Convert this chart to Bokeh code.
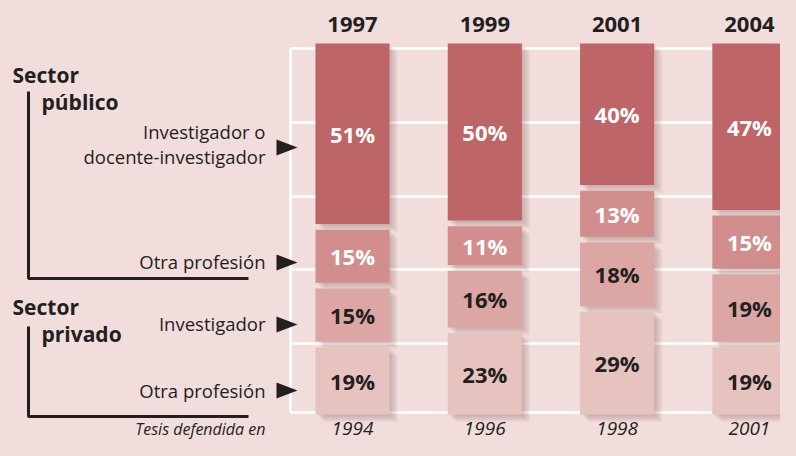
from bokeh.plotting import figure
from bokeh.models import Range1d
from bokeh.core.properties import value
from bokeh.embed import file_html
from bokeh.resources import INLINE

# ---- data ----
years_survey = ["1997", "1999", "2001", "2004"]
years_thesis = ["1994", "1996", "1998", "2001"]
pub_investigador = [51, 50, 40, 47]
pub_otra = [15, 11, 13, 15]
priv_investigador = [15, 16, 18, 19]
priv_otra = [19, 23, 29, 19]
series = [pub_investigador, pub_otra, priv_investigador, priv_otra]
series_colors = ["#bd6567", "#d18e8c", "#dba6a3", "#e7c3bf"]
label_colors = ["#ffffff", "#ffffff", "#231f20", "#231f20"]

# ---- layout ----
W, H = 780, 440
BG = "#f0dddc"
INK = "#231f20"
FONT = "Open Sans"

GAP = 1.6
BAR_W = 0.56
PX_X = 132.3
X0_PIX = 352
X_START = -X0_PIX / PX_X
X_END = X_START + W / PX_X
TOP_PIX, BOTTOM_PIX = 43, 414
PX_Y = (BOTTOM_PIX - TOP_PIX) / (100 + 3 * GAP)
Y_START = -TOP_PIX / PX_Y
Y_END = Y_START + H / PX_Y


def fx(px):
    return X_START + px / PX_X


def fy(py):
    return Y_START + py / PX_Y


p = figure(width=W, height=H, x_range=Range1d(X_START, X_END),
           y_range=Range1d(Y_END, Y_START), output_backend="svg",
           toolbar_location=None, min_border=0,
           x_axis_location=None, y_axis_location=None)
p.grid.visible = False
p.outline_line_color = None
p.background_fill_color = BG
p.border_fill_color = BG

# ---- white grid ----
grid_rows = [48, 122, 196, 269, 343, 412]
p.segment(x0=[fx(290)] * len(grid_rows), y0=[fy(r) for r in grid_rows],
          x1=[fx(800)] * len(grid_rows), y1=[fy(r) for r in grid_rows],
          line_color="white", line_width=2.5)
p.segment(x0=[fx(290)], y0=[fy(48)], x1=[fx(290)], y1=[fy(412)],
          line_color="white", line_width=2.5)

# ---- stacked segments ----
xs = list(range(len(years_survey)))
seg = []  # (col, series index, top, bottom, value)
for j in xs:
    cum = 0
    for i, s in enumerate(series):
        top = cum + i * GAP
        bottom = top + s[j]
        seg.append((j, i, top, bottom, s[j]))
        cum += s[j]

# soft drop shadows
for k in range(1, 8):
    sx = 1.2 * k / PX_X
    sy = 1.1 * k / PX_Y
    p.quad(left=[c - BAR_W / 2 + sx for c, i, t, b, v in seg],
           right=[c + BAR_W / 2 + sx for c, i, t, b, v in seg],
           top=[t + sy for c, i, t, b, v in seg],
           bottom=[b + sy for c, i, t, b, v in seg],
           fill_color="#5a3c3c", fill_alpha=0.04, line_color=None)

p.quad(left=[c - BAR_W / 2 for c, i, t, b, v in seg],
       right=[c + BAR_W / 2 for c, i, t, b, v in seg],
       top=[t for c, i, t, b, v in seg],
       bottom=[b for c, i, t, b, v in seg],
       fill_color=[series_colors[i] for c, i, t, b, v in seg], line_color=None)

p.text(x=[c for c, i, t, b, v in seg], y=[(t + b) / 2 for c, i, t, b, v in seg],
       text=[f"{v}%" for c, i, t, b, v in seg],
       text_color=[label_colors[i] for c, i, t, b, v in seg],
       text_font=value(FONT), text_font_style="bold", text_font_size="22px",
       text_align="center", text_baseline="middle")

# ---- year labels ----
p.text(x=xs, y=[fy(24)] * 4, text=years_survey, text_color=INK,
       text_font=value(FONT), text_font_style="bold", text_font_size="22px",
       text_align="center", text_baseline="middle")
p.text(x=xs, y=[fy(428)] * 4, text=years_thesis, text_color=INK,
       text_font=value(FONT), text_font_style="italic", text_font_size="19px",
       text_align="center", text_baseline="middle")
p.text(x=[fx(265)], y=[fy(428)], text=["Tesis defendida en"], text_color=INK,
       text_font=value(FONT), text_font_style="italic", text_font_size="16px",
       text_align="right", text_baseline="middle")

# ---- left annotations ----
p.text(x=[fx(12), fx(41), fx(12), fx(41)], y=[fy(74), fy(101), fy(306), fy(333)],
       text=["Sector", "público", "Sector", "privado"], text_color=INK,
       text_font=value(FONT), text_font_style="bold", text_font_size="21px",
       text_align="left", text_baseline="middle")
p.text(x=[fx(265)] * 5, y=[fy(131), fy(156), fy(261), fy(323), fy(390)],
       text=["Investigador o", "docente-investigador", "Otra profesión",
             "Investigador", "Otra profesión"], text_color=INK,
       text_font=value(FONT), text_font_size="18.5px",
       text_align="right", text_baseline="middle")

arrow_rows = [147, 262, 324, 390]
p.patches(xs=[[fx(276), fx(297), fx(276)] for r in arrow_rows],
          ys=[[fy(r - 8), fy(r), fy(r + 8)] for r in arrow_rows],
          fill_color=INK, line_color=None)

p.multi_line(xs=[[fx(28), fx(28), fx(248)], [fx(28), fx(28), fx(248)]],
             ys=[[fy(91), fy(278), fy(278)], [fy(326), fy(416), fy(416)]],
             line_color=INK, line_width=3)

html = file_html(p, INLINE)
html = html.replace("<body>", f'<body style="background-color:{BG};">')
open("out.html", "w").write(html)
